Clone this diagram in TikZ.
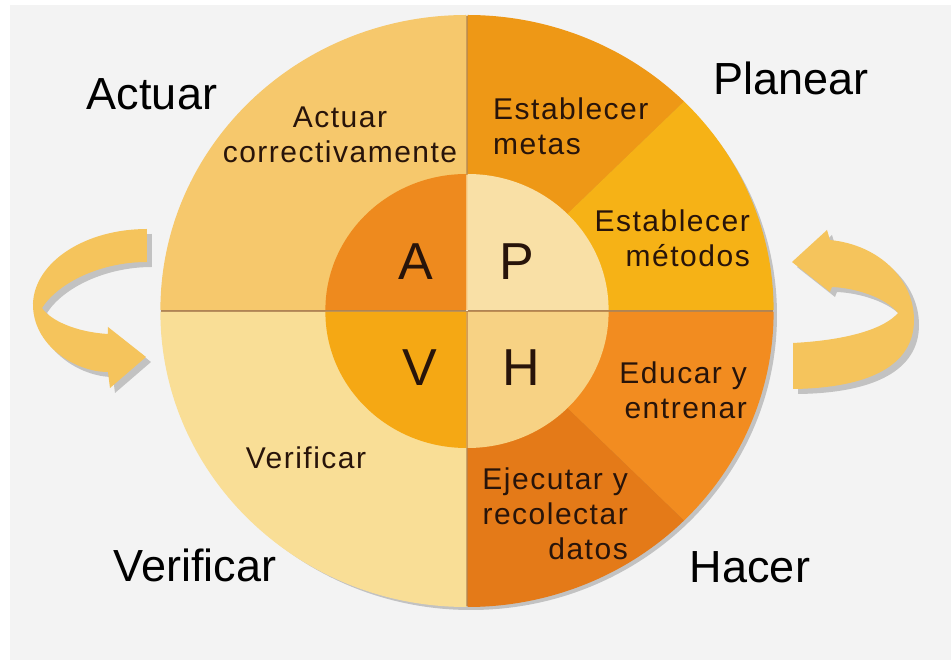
\documentclass[tikz,border=0pt]{standalone}
\usepackage{fontspec}
\setmainfont{Liberation Sans}
\newfontfamily\spaced[LetterSpace=5]{Liberation Sans}
\definecolor{Paper}{RGB}{243,243,243}
\definecolor{Ink}{RGB}{40,20,10}
\definecolor{Seam}{RGB}{176,132,84}
\definecolor{Band}{RGB}{245,196,92}
\definecolor{ActOut}{RGB}{246,200,108}
\definecolor{ActIn}{RGB}{238,138,30}
\definecolor{Metas}{RGB}{238,152,22}
\definecolor{Metodos}{RGB}{246,178,22}
\definecolor{PlanIn}{RGB}{249,224,166}
\definecolor{Educar}{RGB}{242,140,32}
\definecolor{Ejecutar}{RGB}{228,122,24}
\definecolor{HacIn}{RGB}{247,210,132}
\definecolor{VerOut}{RGB}{249,222,150}
\definecolor{VerIn}{RGB}{245,168,20}

\begin{document}
\begin{tikzpicture}[x=1pt,y=1pt,
 outer/.style={x radius=306,y radius=295},
 inner/.style={x radius=141,y radius=136},
 big/.style={font=\fontsize{45}{54}\selectfont,text=black,inner sep=0pt,anchor=base},
 note/.style={font=\spaced\fontsize{30}{35}\selectfont,text=Ink,inner sep=0pt},
 letter/.style={font=\fontsize{52}{60}\selectfont,text=Ink,inner sep=0pt}]
\useasboundingbox (-467,-349) rectangle (484,311);
\fill[white] (-467,-349) rectangle (484,311);
\fill[Paper] (-457,-349) rectangle (484,306);

% shadow and seam under the four quarters
\fill[black,opacity=.2] (4,-4) ellipse[outer];
\fill[Seam] (0,0) ellipse[outer];
\fill[PlanIn!60!white] (-1,0) rectangle (1,136);

% Actuar
\begin{scope}[shift={(-.6,1)}]
\fill[ActOut] (0,0) -- (-306,0) arc[outer,start angle=180,end angle=90] -- cycle;
\fill[ActIn] (0,0) -- (-141,0) arc[inner,start angle=180,end angle=90] -- cycle;
\end{scope}
% Planear
\begin{scope}[shift={(.6,1)}]
\fill[Metas] (0,0) -- (0,295) arc[outer,start angle=90,end angle=45] -- cycle;
\fill[Metodos] (0,0) -- (306,0) arc[outer,start angle=0,end angle=45] -- cycle;
\fill[PlanIn] (0,0) -- (141,0) arc[inner,start angle=0,end angle=90] -- cycle;
\end{scope}
% Hacer
\begin{scope}[shift={(.6,-1)}]
\fill[Educar] (0,0) -- (306,0) arc[outer,start angle=0,end angle=-45] -- cycle;
\fill[Ejecutar] (0,0) -- (0,-295) arc[outer,start angle=-90,end angle=-45] -- cycle;
\fill[HacIn] (0,0) -- (141,0) arc[inner,start angle=0,end angle=-90] -- cycle;
\end{scope}
% Verificar
\begin{scope}[shift={(-.6,-1)}]
\fill[VerOut] (0,0) -- (-306,0) arc[outer,start angle=180,end angle=270] -- cycle;
\fill[VerIn] (0,0) -- (-141,0) arc[inner,start angle=180,end angle=270] -- cycle;
\end{scope}

% turning arrows, shadow first
\foreach \d/\c/\o in {5/black/.2,0/Band/1} {
\fill[\c,opacity=\o,shift={(\d,-\d)}] (-320,82) .. controls (-382,82) and (-432,49) .. (-434,8)
 .. controls (-435,-34) and (-392,-61) .. (-359,-61) -- (-357,-77) -- (-321,-46) -- (-359,-16)
 -- (-359,-23) .. controls (-392,-21) and (-417,-9) .. (-425,3)
 .. controls (-409,28) and (-367,49) .. (-320,49) -- cycle;
\fill[\c,opacity=\o,shift={(\d,-\d)}] (325,49) -- (360,81) -- (363,71) .. controls (413,66) and (447,31) .. (447,-9)
 .. controls (447,-54) and (403,-77) .. (326,-78) -- (326,-32)
 .. controls (383,-29) and (418,-17) .. (431,-2)
 .. controls (418,14) and (388,23) .. (365,24) -- (363,19) -- cycle;
}

% phase names
\node[big] (actuar) at (-315,201) {Actuar};
\node[big] (planear) at (324,216) {Planear};
\node[big] (verificar) at (-272,-271) {Verificar};
\node[big] (hacer) at (283,-272) {Hacer};

% steps
\node[note,align=center] (correct) at (-127,176) {Actuar\\correctivamente};
\node[note,align=left,anchor=west] (metas) at (26,185) {Establecer\\metas};
\node[note,align=right,anchor=east] (metodos) at (283,73) {Establecer\\métodos};
\node[note,align=right,anchor=east] (educar) at (280,-79) {Educar y\\entrenar};
\node[note,align=right,anchor=east] (ejecutar) at (161,-203) {Ejecutar y\\recolectar\\datos};
\node[note] (verif) at (-161,-147) {Verificar};

% letters
\node[letter] (a) at (-51,49) {A};
\node[letter] (p) at (50,49) {P};
\node[letter] (v) at (-47,-57) {V};
\node[letter] (h) at (54,-57) {H};
\end{tikzpicture}
\end{document}
